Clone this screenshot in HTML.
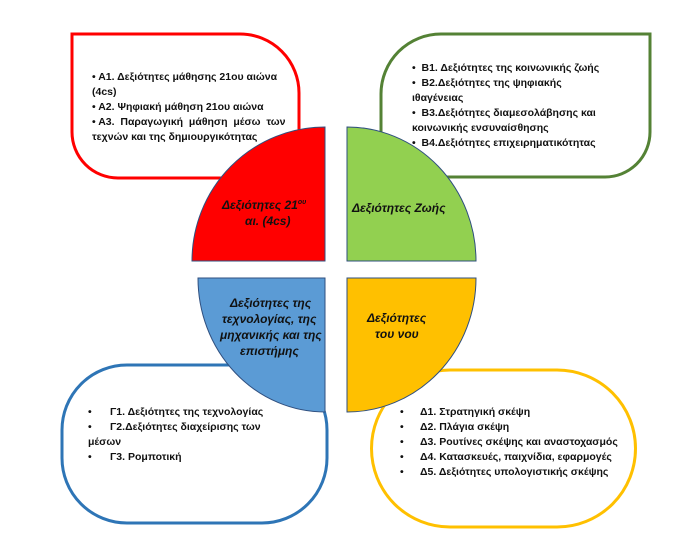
<!DOCTYPE html>
<html><head><meta charset="utf-8"><style>
body{margin:0;background:#fff;}
svg{display:block;}
text{font-family:"Liberation Sans","DejaVu Sans",sans-serif;white-space:pre;}
.t{font-size:10.5px;font-weight:700;fill:#111;}
.h{font-size:12px;font-weight:700;font-style:italic;fill:#111;}
</style></head><body>
<svg width="687" height="533" viewBox="0 0 687 533" xml:space="preserve">
<path d="M72,34 H240 A59,59 0 0 1 299,93 V178 H118 A46,46 0 0 1 72,132 Z" fill="#fff" stroke="#ff0000" stroke-width="3"/>
<path d="M441,34 H650 V132 A45,45 0 0 1 605,177 H381 V94 A60,60 0 0 1 441,34 Z" fill="#fff" stroke="#548235" stroke-width="3"/>
<path d="M127,365 H262 A65,65 0 0 1 327,430 V458 A65,65 0 0 1 262,523 H127 A65,65 0 0 1 62,458 V430 A65,65 0 0 1 127,365 Z" fill="#fff" stroke="#2e75b6" stroke-width="3"/>
<path d="M450,370 H557 A78,78 0 0 1 557,527 H450 A78,78 0 0 1 450,370 Z" fill="#fff" stroke="#ffc000" stroke-width="3"/>
<path d="M325,127 V261 H192 A133,134 0 0 1 325,127 Z" fill="#ff0000" stroke="#2f4f7f" stroke-width="1"/>
<path d="M347,127 V261 H476 A129,134 0 0 0 347,127 Z" fill="#92d050" stroke="#2f4f7f" stroke-width="1"/>
<path d="M198,278 H325 V412 A127,134 0 0 1 198,278 Z" fill="#5b9bd5" stroke="#2f4f7f" stroke-width="1"/>
<path d="M347,278 H476 A129,134 0 0 1 347,412 Z" fill="#ffc000" stroke="#2f4f7f" stroke-width="1"/>
<text class="t" font-weight="bold" x="92" y="80">• Α1. Δεξιότητες μάθησης 21ου αιώνα</text>
<text class="t" font-weight="bold" x="92" y="95">(4cs)</text>
<text class="t" font-weight="bold" x="92" y="110">• Α2. Ψηφιακή μάθηση 21ου αιώνα</text>
<text class="t" font-weight="bold" x="92" y="125">• Α3.  Παραγωγική  μάθηση  μέσω  των</text>
<text class="t" font-weight="bold" x="92" y="140">τεχνών και της δημιουργικότητας</text>
<text class="h" font-weight="bold" x="222" y="209">Δεξιότητες 21<tspan font-size="7" dy="-5">ου</tspan></text>
<text class="h" font-weight="bold" x="245" y="225">αι. (4cs)</text>
<text class="t" font-weight="bold" x="412" y="71">•  Β1. Δεξιότητες της κοινωνικής ζωής</text>
<text class="t" font-weight="bold" x="412" y="86">•  Β2.Δεξιότητες της ψηφιακής</text>
<text class="t" font-weight="bold" x="412" y="101">ιθαγένειας</text>
<text class="t" font-weight="bold" x="412" y="116">•  Β3.Δεξιότητες διαμεσολάβησης και</text>
<text class="t" font-weight="bold" x="412" y="131">κοινωνικής ενσυναίσθησης</text>
<text class="t" font-weight="bold" x="412" y="146">•  Β4.Δεξιότητες επιχειρηματικότητας</text>
<text class="h" font-weight="bold" x="352" y="212">Δεξιότητες Ζωής</text>
<text class="h" font-weight="bold" x="230" y="307">Δεξιότητες της</text>
<text class="h" font-weight="bold" x="222" y="323">τεχνολογίας, της</text>
<text class="h" font-weight="bold" x="220" y="339">μηχανικής και της</text>
<text class="h" font-weight="bold" x="240" y="355">επιστήμης</text>
<text class="t" font-weight="bold" x="88" y="415">•</text><text class="t" font-weight="bold" x="110" y="415">Γ1. Δεξιότητες της τεχνολογίας</text>
<text class="t" font-weight="bold" x="88" y="430">•</text><text class="t" font-weight="bold" x="110" y="430">Γ2.Δεξιότητες διαχείρισης των</text>
<text class="t" font-weight="bold" x="88" y="445">μέσων</text>
<text class="t" font-weight="bold" x="88" y="460">•</text><text class="t" font-weight="bold" x="110" y="460">Γ3. Ρομποτική</text>
<text class="h" font-weight="bold" x="367" y="322">Δεξιότητες</text>
<text class="h" font-weight="bold" x="375" y="338">του νου</text>
<text class="t" font-weight="bold" x="400" y="415">•</text><text class="t" font-weight="bold" x="420" y="415">Δ1. Στρατηγική σκέψη</text>
<text class="t" font-weight="bold" x="400" y="430">•</text><text class="t" font-weight="bold" x="420" y="430">Δ2. Πλάγια σκέψη</text>
<text class="t" font-weight="bold" x="400" y="445">•</text><text class="t" font-weight="bold" x="420" y="445">Δ3. Ρουτίνες σκέψης και αναστοχασμός</text>
<text class="t" font-weight="bold" x="400" y="460">•</text><text class="t" font-weight="bold" x="420" y="460">Δ4. Κατασκευές, παιχνίδια, εφαρμογές</text>
<text class="t" font-weight="bold" x="400" y="475">•</text><text class="t" font-weight="bold" x="420" y="475">Δ5. Δεξιότητες υπολογιστικής σκέψης</text>
</svg>
</body></html>
